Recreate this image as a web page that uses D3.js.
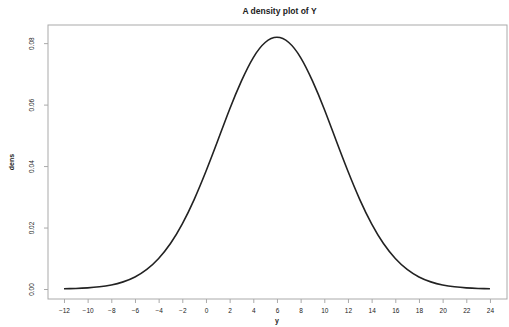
<!DOCTYPE html>
<html>
<head>
<meta charset="utf-8">
<script src="https://cdn.jsdelivr.net/npm/d3@7"></script>
<style>
  body { margin: 0; background: #fff; }
  text { font-family: "Liberation Sans", Arial, sans-serif; fill: #222; }
</style>
</head>
<body>
<div id="chart"></div>
<script>
// curve values (y = 6 +/- ...)
var xs = [-12,-11,-10,-9,-8,-7,-6,-5,-4,-3,-2,-1,0,1,2,3,4,5,6,
          7,8,9,10,11,12,13,14,15,16,17,18,19,20,21,22,23,24];
var dens = [0.00009,0.00019,0.00037,0.00071,0.00131,0.00232,0.00393,0.00639,0.00995,0.0148,0.0212,0.0291,0.0383,0.0483,0.0585,0.0677,0.0753,0.0802,0.0819,
            0.0802,0.0753,0.0677,0.0585,0.0483,0.0383,0.0291,0.0212,0.0148,0.00995,0.00639,0.00393,0.00232,0.00131,0.00071,0.00037,0.00019,0.00009];
var xTicks = [-12,-10,-8,-6,-4,-2,0,2,4,6,8,10,12,14,16,18,20,22,24];
var yTicks = [0, 0.02, 0.04, 0.06, 0.08];

var width = 509, height = 327;
var margin = {top: 25, right: 2, bottom: 28, left: 48};

var svg = d3.select('#chart').append('svg')
    .attr('width', width)
    .attr('height', height);

var x = d3.scaleLinear()
    .domain([-13.35, 25.44])
    .range([margin.left, width - margin.right]);
var y = d3.scaleLinear()
    .domain([-0.00325, 0.0859])
    .range([height - margin.bottom, margin.top]);

// box
svg.append('rect')
    .attr('x', margin.left).attr('y', margin.top)
    .attr('width', width - margin.right - margin.left)
    .attr('height', height - margin.bottom - margin.top)
    .attr('fill', 'none').attr('stroke', '#aaa').attr('stroke-width', 1);

// x axis
var xAxis = svg.append('g')
    .attr('transform', `translate(0,${height - margin.bottom})`)
    .call(d3.axisBottom(x).tickValues(xTicks).tickSize(4).tickPadding(5)
        .tickFormat(d => d < 0 ? '\u2212' + Math.abs(d) : d));
xAxis.select('.domain').remove();
xAxis.selectAll('line').attr('stroke', '#aaa');
xAxis.selectAll('text').style('font-size', '6.5px').attr('fill', '#333');

// y axis
var yAxis = svg.append('g')
    .attr('transform', `translate(${margin.left},0)`)
    .call(d3.axisLeft(y).tickValues(yTicks).tickSize(4).tickFormat(d3.format('.2f')));
yAxis.select('.domain').remove();
yAxis.selectAll('line').attr('stroke', '#aaa');
yAxis.selectAll('text')
    .style('font-size', '6.5px').attr('fill', '#333')
    .attr('x', null).attr('dy', null)
    .attr('text-anchor', 'middle')
    .attr('transform', 'translate(-14,0) rotate(-90)');

// titles
svg.append('text')
    .attr('x', (margin.left + width - margin.right) / 2 + 2).attr('y', 14)
    .attr('text-anchor', 'middle')
    .style('font-size', '8.5px').style('font-weight', 'bold')
    .text('A density plot of Y');
svg.append('text')
    .attr('x', x(6)).attr('y', 323)
    .attr('text-anchor', 'middle')
    .style('font-size', '7px').style('font-weight', 'bold')
    .text('y');
svg.append('text')
    .attr('transform', `translate(14,${(margin.top + height - margin.bottom) / 2}) rotate(-90)`)
    .attr('text-anchor', 'middle')
    .style('font-size', '7px').style('font-weight', 'bold')
    .text('dens');

// density curve
var line = d3.line()
    .x(function(d, i) { return x(xs[i]); })
    .y(function(d) { return y(d); })
    .curve(d3.curveNatural);
svg.append('path')
    .datum(dens)
    .attr('d', line)
    .attr('fill', 'none')
    .attr('stroke', '#222')
    .attr('stroke-width', 1.6);
</script>
</body>
</html>
